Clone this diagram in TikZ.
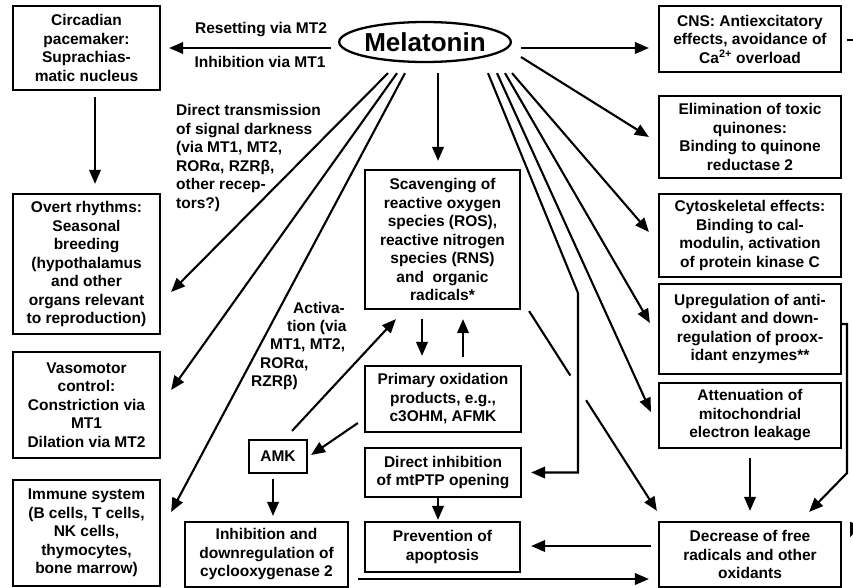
\documentclass[tikz,border=0pt]{standalone}
\usepackage{fontspec}
\setmainfont{Liberation Sans}
\usetikzlibrary{arrows.meta,calc,shapes.geometric}
\tikzset{
  txt/.style={font=\bfseries\fontsize{15.5}{18.5}\selectfont},
  box/.style={txt, draw, line width=2.2pt, align=center, inner sep=2pt},
  lbl/.style={txt, inner sep=0pt},
  ln/.style={line width=2.1pt},
  arr/.style={line width=2.1pt, -{Triangle[length=14pt,width=11.5pt]}}
}
\begin{document}
\begin{tikzpicture}[x=1pt,y=-1pt]
\useasboundingbox (0,0) rectangle (853,588);
\clip (0,0) rectangle (853,588);
\fill[white] (0,0) rectangle (853,588);

% central node
\node[draw, ellipse, line width=2.3pt, minimum width=156pt, minimum height=40pt, inner sep=0pt,
      font=\bfseries\fontsize{26}{30}\selectfont] (mel) at (425,42) {Melatonin};

% left column
\node[box, minimum width=147pt, minimum height=84pt] (circ) at (86.5,48)
  {Circadian\\pacemaker:\\Suprachias-\\matic nucleus};
\node[box, minimum width=147pt, minimum height=140pt] (overt) at (86.5,264)
  {Overt rhythms:\\Seasonal\\breeding\\(hypothalamus\\and other\\organs relevant\\to reproduction)};
\node[box, minimum width=147pt, minimum height=106pt] (vaso) at (86.5,405)
  {Vasomotor\\control:\\Constriction via\\MT1\\Dilation via MT2};
\node[box, minimum width=147pt, minimum height=106pt] (immune) at (86.5,533)
  {Immune system\\(B cells, T cells,\\NK cells,\\thymocytes,\\bone marrow)};

% middle
\node[box, minimum width=58pt, minimum height=33pt] (amk) at (278,456.5) {AMK};
\node[box, minimum width=163pt, minimum height=65pt] (cox) at (266.5,554.5)
  {Inhibition and\\downregulation of\\cyclooxygenase 2};
\node[box, minimum width=155pt, minimum height=139pt] (scav) at (442.5,239.5)
  {Scavenging of\\reactive oxygen\\species (ROS),\\reactive nitrogen\\species (RNS)\\and\ \ organic\\radicals*};
\node[box, minimum width=156pt, minimum height=66pt] (prim) at (443,399)
  {Primary oxidation\\products, e.g.,\\c3OHM, AFMK};
\node[box, minimum width=156pt, minimum height=49pt] (direct) at (443,472.5)
  {Direct inhibition\\of mtPTP opening};
\node[box, minimum width=155pt, minimum height=50pt] (prev) at (442.5,547)
  {Prevention of\\apoptosis};

% right column
\node[box, minimum width=182pt, minimum height=66pt] (cns) at (750,39)
  {CNS: Antiexcitatory\\effects, avoidance of\\Ca\textsuperscript{2+} overload};
\node[box, minimum width=182pt, minimum height=82pt] (elim) at (750,137)
  {Elimination of toxic\\quinones:\\Binding to quinone\\reductase 2};
\node[box, minimum width=182pt, minimum height=83pt] (cyto) at (750,235.5)
  {Cytoskeletal effects:\\Binding to cal-\\modulin, activation\\of protein kinase C};
\node[box, minimum width=182pt, minimum height=90pt] (upreg) at (750,329)
  {Upregulation of anti-\\oxidant and down-\\regulation of proox-\\idant enzymes**};
\node[box, minimum width=182pt, minimum height=65pt] (atten) at (750,415.5)
  {Attenuation of\\mitochondrial\\electron leakage};
\node[box, minimum width=182pt, minimum height=65pt] (decr) at (750,554.5)
  {Decrease of free\\radicals and other\\oxidants};

% labels
\node[lbl] (lreset) at (261,30) {Resetting via MT2};
\node[lbl] (linhib) at (260,62) {Inhibition via MT1};
\node[lbl, align=left, anchor=west] (ldirect) at (176,158)
  {Direct transmission\\of signal darkness\\(via MT1, MT2,\\RORα, RZRβ,\\other recep-\\tors?)};
\node[lbl, anchor=west] (lact1) at (293,308) {Activa-};
\node[lbl, anchor=west] (lact2) at (287,327) {tion (via};
\node[lbl, anchor=west] (lact3) at (270,345) {MT1, MT2,};
\node[lbl, anchor=west] (lact4) at (260,364) {RORα,};
\node[lbl, anchor=west] (lact5) at (251,382) {RZRβ)};

% connectors from melatonin
\draw[arr] ($(mel.west)+(-7,6)$) -- ($(circ.east)+(8,0)$);
\draw[arr] ($(mel.east)+(9,6)$) -- ($(cns.west)+(-9,9)$);
\draw[arr] ($(mel.east)+(9,15)$) -- ($(elim.west)+(-9,0)$);
\draw[arr] ($(mel.south)+(87,10)$) -- ($(cyto.west)+(-9,-3.5)$);
\draw[arr] ($(mel.south)+(80,10)$) -- ($(upreg.west)+(-8,-6)$);
\draw[arr] ($(mel.south)+(72,10)$) -- ($(atten.west)+(-7,-3.5)$);
\coordinate (bendA) at (578,293);
\draw[arr] ($(mel.south)+(63,10)$) -- (bendA) |- ($(direct.east)+(9,0)$);
\draw[arr] ($(mel.south)+(13,10)$) -- ($(scav.north)+(-4.5,-8)$);
\draw[arr] ($(mel.south)+(-37,10)$) -- ($(overt.east)+(10,28)$);
\draw[arr] ($(mel.south)+(-28,10)$) -- ($(vaso.east)+(10,-15)$);
\draw[arr] ($(mel.south)+(-20,10)$) -- ($(immune.east)+(10,-21)$);

% other connectors
\draw[arr] ($(circ.south)+(8.5,6)$) -- ($(overt.north)+(8.5,-9)$);
\draw[arr] ($(scav.south)+(-20.5,9)$) -- ($(prim.north)+(-21,-9)$);
\draw[arr] ($(prim.north)+(20,-8)$) -- ($(scav.south)+(20.5,9)$);
\draw[arr] ($(amk.north)+(14,-8)$) -- ($(scav.south west)+(32,9)$);
\draw[arr] ($(prim.west)+(-6,24)$) -- ($(amk.east)+(3,-1.5)$);
\draw[arr] ($(amk.south)+(-5,5)$) -- ($(cox.north)+(6.5,-5)$);
\draw[arr] ($(cox.east)+(9,24.5)$) -- ($(decr.west)+(-9,24.5)$);
\draw[arr] ($(direct.south)+(-5,0)$) -- ($(prev.north)+(-4.5,-1)$);
\draw[arr] ($(decr.west)+(-7,-8.5)$) -- ($(prev.east)+(10,-1)$);
\draw[arr] ($(atten.south)+(0,9)$) -- ($(decr.north)+(0,-10)$);
\coordinate (bendB) at (847,473);
\draw[arr] ($(upreg.east)+(0,-5)$) -| (bendB) -- ($(decr.north east)+(-33,-9)$);

% scavenging to decrease, with a gap where it crosses
\coordinate (sA) at ($(scav.south east)+(8,1)$);
\coordinate (sB) at ($(decr.north west)+(-1,-10)$);
\draw[ln] (sA) -- ($(sA)!0.323!(sB)$);
\draw[arr] ($(sA)!0.446!(sB)$) -- (sB);

% cut-off pieces at the right edge
\coordinate (offC) at (856,40);
\draw[ln] ($(cns.east)+(5,1)$) -- (offC);
\coordinate (offR) at (860,514);
\draw[arr] (offR) -- ($(decr.east)+(8,-17.5)$);
\end{tikzpicture}
\end{document}
